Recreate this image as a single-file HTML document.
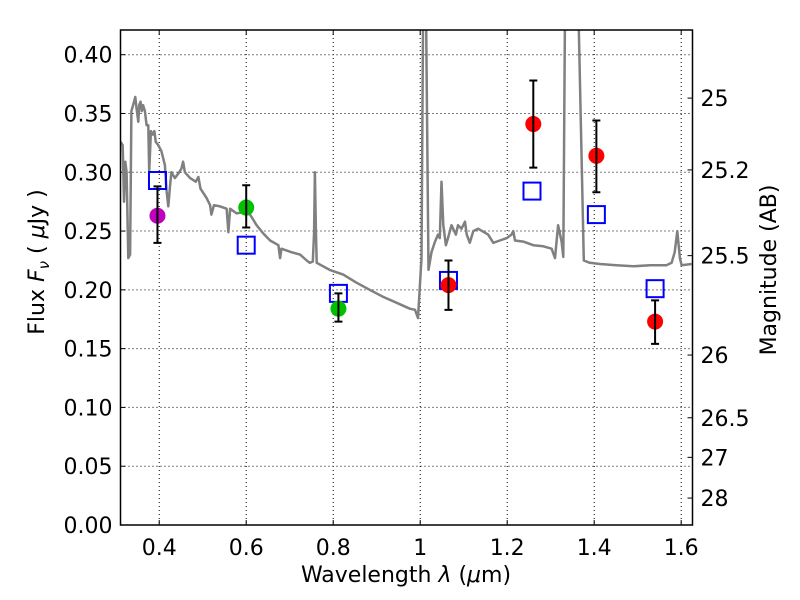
<!DOCTYPE html>
<html><head><meta charset="utf-8"><style>
body{margin:0;background:#fff;}
svg{display:block;font-family:"DejaVu Sans","Liberation Sans",sans-serif;}
</style></head><body>
<svg id="chart" width="800" height="600" xmlns="http://www.w3.org/2000/svg"></svg>
<script>
const xTicks=[0.4,0.6,0.8,1.0,1.2,1.4,1.6];
const xTickLabels=["0.4","0.6","0.8","1","1.2","1.4","1.6"];
const yTicks=[0,0.05,0.1,0.15,0.2,0.25,0.3,0.35,0.4];
const yTickLabels=["0.00","0.05","0.10","0.15","0.20","0.25","0.30","0.35","0.40"];
const magTicks=[25,25.2,25.5,26,26.5,27,28];
const magTickLabels=["25","25.2","25.5","26","26.5","27","28"];
const specLam=[.311,.316,.319,.322,.325,.329,.333,.336,.340,.345,.348,.352,.354,.357,.360,.363,.367,.371,.375,.377,.381,.385,.389,.392,.398,.405,.413,.417,.421,.425,.428,.436,.444,.451,.455,.459,.471,.484,.490,.495,.509,.517,.520,.526,.540,.555,.559,.563,.578,.593,.609,.624,.639,.655,.674,.678,.681,.704,.724,.739,.746,.753,.756,.758,.760,.762,.792,.823,.854,.884,.915,.946,.976,.988,.995,1.003,1.007,1.013,1.019,1.026,1.034,1.041,1.045,1.049,1.053,1.059,1.064,1.072,1.082,1.087,1.095,1.103,1.107,1.114,1.122,1.133,1.156,1.168,1.183,1.199,1.210,1.214,1.218,1.237,1.260,1.283,1.302,1.310,1.317,1.325,1.329,1.333,1.363,1.371,1.376,1.390,1.413,1.451,1.490,1.528,1.566,1.578,1.585,1.591,1.597,1.601,1.624];
const specFlux=[.326,.323,.275,.309,.300,.227,.230,.352,.357,.364,.354,.343,.357,.360,.352,.357,.352,.340,.340,.300,.335,.332,.335,.326,.323,.318,.306,.284,.271,.289,.300,.295,.299,.303,.309,.300,.295,.292,.296,.286,.278,.272,.264,.272,.271,.269,.249,.269,.265,.266,.264,.255,.248,.242,.238,.227,.235,.232,.230,.225,.223,.224,.249,.300,.255,.223,.217,.213,.206,.200,.194,.189,.184,.183,.176,.227,.45,.45,.217,.232,.241,.247,.244,.292,.255,.238,.244,.255,.247,.255,.252,.258,.247,.240,.250,.252,.247,.240,.242,.244,.247,.250,.242,.241,.238,.237,.235,.227,.255,.241,.228,.45,.45,.312,.225,.223,.222,.221,.220,.221,.221,.223,.232,.250,.227,.221,.222];
const modelLam=[0.396,0.600,0.812,1.065,1.257,1.405,1.540];
const modelFlux=[0.293,0.238,0.197,0.208,0.284,0.264,0.201];
const obsLam=[0.396,0.600,0.812,1.065,1.260,1.405,1.540];
const obsFlux=[0.263,0.270,0.184,0.204,0.341,0.314,0.173];
const obsErrHi=[0.288,0.289,0.197,0.225,0.378,0.344,0.191];
const obsErrLo=[0.240,0.253,0.173,0.183,0.304,0.283,0.154];
const obsColors=["#bf00bf","#00c000","#00c000","#ff0000","#ff0000","#ff0000","#ff0000"];

const L=120.5,R=692.5,T=30,B=525;
const X0=0.311,X1=1.626,Y0=0,Y1=0.421;
const sx=v=>L+(v-X0)/(X1-X0)*(R-L);
const sy=v=>B-(v-Y0)/(Y1-Y0)*(B-T);
const magToFlux=m=>Math.pow(10,(23.9-m)/2.5);
const svg=document.getElementById('chart');
const NS="http://www.w3.org/2000/svg";
function mk(tag,attrs,parent){const e=document.createElementNS(NS,tag);for(const k in attrs)e.setAttribute(k,attrs[k]);(parent||svg).appendChild(e);return e;}

const defs=mk('defs',{});
const cp=mk('clipPath',{id:'pc'},defs);
mk('rect',{x:L,y:T,width:R-L,height:B-T},cp);

xTicks.forEach((v,i)=>{
  const g=mk('line',{x1:sx(v),x2:sx(v),y1:T,y2:B,stroke:'#000','stroke-width':1,'stroke-dasharray':'1,3'});
  
  
  mk('line',{x1:sx(v),x2:sx(v),y1:B,y2:B-5,stroke:'#000'});
  mk('line',{x1:sx(v),x2:sx(v),y1:T,y2:T+5,stroke:'#000'});
  const t=mk('text',{x:sx(v),y:B+30,'text-anchor':'middle','font-size':22});
  t.textContent=xTickLabels[i];
  
  
});
yTicks.forEach((v,i)=>{
  if(v>0){const g=mk('line',{x1:L,x2:R,y1:sy(v),y2:sy(v),stroke:'#000','stroke-width':1,'stroke-dasharray':'1,3'});
  
  }
  mk('line',{x1:L,x2:L+5,y1:sy(v),y2:sy(v),stroke:'#000'});
  const t=mk('text',{x:L-8,y:sy(v)+8,'text-anchor':'end','font-size':22});
  t.textContent=yTickLabels[i];
  
  
});
magTicks.forEach((m,i)=>{
  const y=sy(magToFlux(m));
  mk('line',{x1:R,x2:R-5,y1:y,y2:y,stroke:'#000'});
  const t=mk('text',{x:R+8,y:y+8,'text-anchor':'start','font-size':22});
  t.textContent=magTickLabels[i];
  
  
});

const g=mk('g',{'clip-path':'url(#pc)'});
const d=specLam.map((l,i)=>(i?'L':'M')+sx(l).toFixed(1)+','+sy(specFlux[i]).toFixed(1)).join(' ');
const sp=mk('path',{d:d,fill:'none',stroke:'#808080','stroke-width':2.5,'stroke-linejoin':'round'},g);



modelLam.forEach((l,i)=>{
  const r=mk('rect',{x:sx(l)-8.5,y:sy(modelFlux[i])-8.5,width:17,height:17,fill:'none',stroke:'#0000ff','stroke-width':2},g);
  
  
});
obsLam.forEach((l,i)=>{
  const x=sx(l);
  const c=mk('circle',{cx:x,cy:sy(obsFlux[i]),r:8,fill:obsColors[i]},g);
  
  
  const e=mk('path',{d:`M${x},${sy(obsErrHi[i])}V${sy(obsErrLo[i])}M${x-4},${sy(obsErrHi[i])}H${x+4}M${x-4},${sy(obsErrLo[i])}H${x+4}`,stroke:'#000','stroke-width':2,fill:'none'},g);
  
  
});

const fr=mk('rect',{x:L,y:T,width:R-L,height:B-T,fill:'none',stroke:'#000','stroke-width':1.5});



const xt=mk('text',{x:406,y:582,'text-anchor':'middle','font-size':22});
xt.innerHTML='Wavelength  <tspan font-style="italic">λ</tspan> (<tspan font-style="italic">μ</tspan>m)';


const yt=mk('text',{x:0,y:0,'text-anchor':'middle','font-size':22,transform:'translate(44,262) rotate(-90)','xml:space':'preserve'});
yt.innerHTML='Flux  <tspan font-style="italic">F</tspan><tspan font-style="italic" font-size="15" dy="5">ν</tspan><tspan dy="-5">  (  </tspan><tspan font-style="italic">μ</tspan>Jy )';


const rt=mk('text',{x:0,y:0,'text-anchor':'middle','font-size':22,transform:'translate(776,270) rotate(-90)'});
rt.textContent='Magnitude (AB)';


</script>
</body></html>
